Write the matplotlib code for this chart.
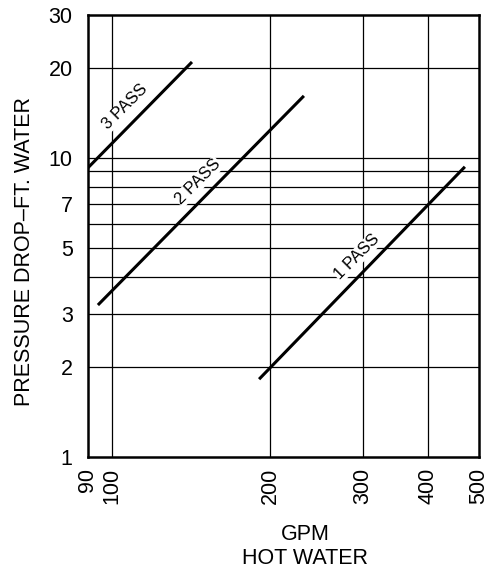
import matplotlib
matplotlib.use('Agg')
import matplotlib.pyplot as plt
from matplotlib.ticker import FixedLocator, NullFormatter, FixedFormatter

plt.rcParams['font.family'] = ['Liberation Sans', 'DejaVu Sans']

# curve end points (GPM, ft. water)
pass_names = ['1 PASS', '2 PASS', '3 PASS']
gpm_start = [190.6, 94.0, 90.0]
gpm_end = [470.0, 232.0, 142.0]
drop_start = [1.82, 3.22, 9.26]
drop_end = [9.33, 16.1, 20.9]

# label anchor points for each curve
label_gpm = [293.0, 146.0, 106.0]
label_drop = [4.67, 8.31, 14.8]

x_ticks = [90, 100, 200, 300, 400, 500]
x_grid = [100, 200, 300, 400]
y_ticks = [1, 2, 3, 5, 7, 10, 20, 30]
y_grid = [2, 3, 4, 5, 6, 7, 8, 9, 10, 20]

fig = plt.figure(figsize=(5.02, 5.69), dpi=100)
ax = fig.add_axes([88 / 502, 112 / 569, 391 / 502, 442 / 569])
ax.set_xscale('log')
ax.set_yscale('log')
ax.set_xlim(90, 500)
ax.set_ylim(1, 30)

for xv in x_grid:
    ax.axvline(xv, color='black', lw=0.9, zorder=1)
for yv in y_grid:
    ax.axhline(yv, color='black', lw=0.9, zorder=1)

for x0, x1, y0, y1 in zip(gpm_start, gpm_end, drop_start, drop_end):
    ax.plot([x0, x1], [y0, y1], color='black', lw=2.2, solid_capstyle='butt', zorder=3)

for name, lx, ly in zip(pass_names, label_gpm, label_drop):
    ax.text(lx, ly, name, rotation=45, ha='center', va='center', fontsize=12,
            bbox=dict(facecolor='white', edgecolor='none', pad=0.5), zorder=2)

ax.xaxis.set_major_locator(FixedLocator(x_ticks))
ax.xaxis.set_major_formatter(FixedFormatter([str(v) for v in x_ticks]))
ax.xaxis.set_minor_formatter(NullFormatter())
ax.xaxis.set_minor_locator(FixedLocator([]))
ax.yaxis.set_major_locator(FixedLocator(y_ticks))
ax.yaxis.set_major_formatter(FixedFormatter([str(v) for v in y_ticks]))
ax.yaxis.set_minor_formatter(NullFormatter())
ax.yaxis.set_minor_locator(FixedLocator([]))

ax.tick_params(axis='both', length=0, labelsize=15.5)
ax.tick_params(axis='x', pad=8, labelrotation=90)
ax.tick_params(axis='y', pad=11)

for sp in ax.spines.values():
    sp.set_linewidth(1.8)
    sp.set_zorder(4)

ax.set_ylabel('PRESSURE DROP–FT. WATER', fontsize=15.5)
ax.yaxis.set_label_coords(-0.135, 0.464)
ax.set_xlabel('GPM\nHOT WATER', fontsize=15.5, linespacing=1.15)
ax.xaxis.set_label_coords(0.555, -0.152)

fig.savefig('out.png', dpi=100)
